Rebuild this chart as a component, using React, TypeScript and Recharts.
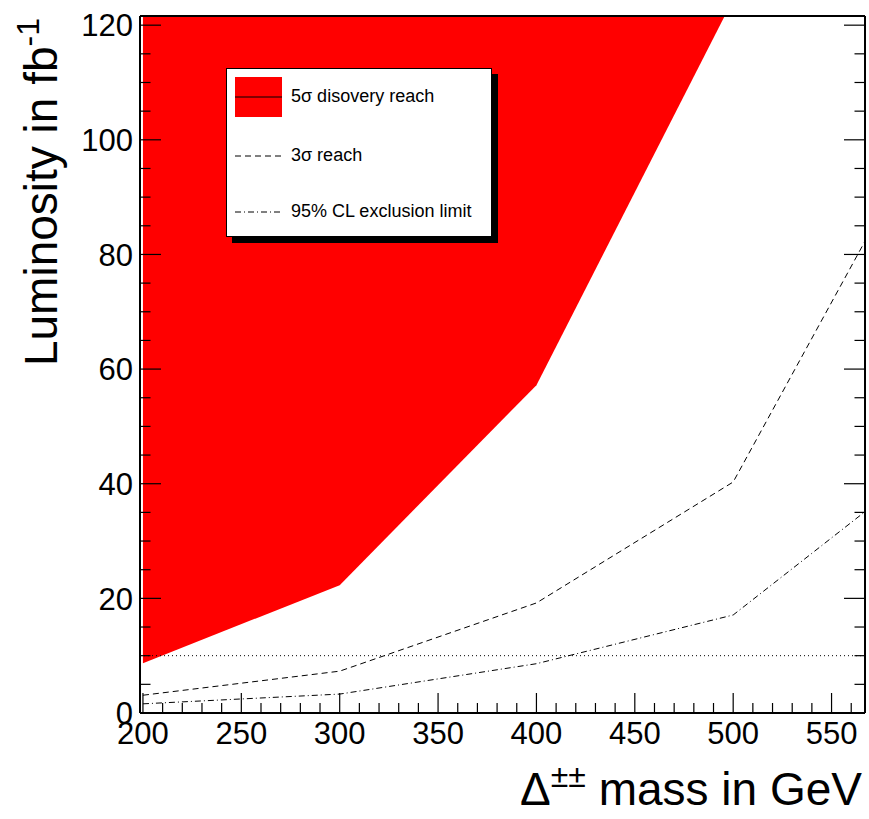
import React from 'react';
import { ComposedChart, Area, Line, XAxis, YAxis, ReferenceLine, Legend } from 'recharts';

// Delta++ mass points (GeV) and the luminosity needed (fb^-1)
const masses = [200, 300, 400, 500, 600];
const reach5sigma = [8.7, 22.3, 57.2, 124.5, null];
const reach3sigma = [3.1, 7.3, 19.2, 40.3, 103];
const exclusion95 = [1.6, 3.3, 8.6, 17.1, 44];
const refLumi = 10;

const xMajorTicks = [200, 250, 300, 350, 400, 450, 500, 550];
const yMajorTicks = [0, 20, 40, 60, 80, 100, 120];
const xTicks = Array.from({ length: 37 }, (_, i) => 200 + i * 10);
const yTicks = Array.from({ length: 25 }, (_, i) => i * 5);

const data = masses.map((m, i) => ({
  mass: m,
  s5: reach5sigma[i],
  s3: reach3sigma[i],
  cl95: exclusion95[i],
}));

const FONT = '"Liberation Sans", Arial, Helvetica, sans-serif';
const X_DOMAIN = [198.5, 567];
const Y_DOMAIN = [0, 121.6];

const isMajorX = (v: number) => xMajorTicks.includes(v);
const isMajorY = (v: number) => yMajorTicks.includes(v);

const BottomTick = (p: any) => {
  const { x, y, payload } = p;
  const major = isMajorX(payload.value);
  return (
    <g>
      <line x1={x} x2={x} y1={y} y2={y - (major ? 20 : 10)} stroke="#000" strokeWidth={1.2} />
      {major && (
        <text x={x} y={y + 31} textAnchor="middle" fontSize={31} fontFamily={FONT} fill="#000">
          {payload.value}
        </text>
      )}
    </g>
  );
};

const TopTick = (p: any) => {
  const { x, y, payload } = p;
  const major = isMajorX(payload.value);
  return <line x1={x} x2={x} y1={y} y2={y + (major ? 20 : 10)} stroke="#000" strokeWidth={1.2} />;
};

const LeftTick = (p: any) => {
  const { x, y, payload } = p;
  const major = isMajorY(payload.value);
  return (
    <g>
      <line x1={x} x2={x + (major ? 21 : 10.5)} y1={y} y2={y} stroke="#000" strokeWidth={1.2} />
      {major && (
        <text x={x - 7} y={y} dy="0.36em" textAnchor="end" fontSize={31} fontFamily={FONT} fill="#000">
          {payload.value}
        </text>
      )}
    </g>
  );
};

const RightTick = (p: any) => {
  const { x, y, payload } = p;
  const major = isMajorY(payload.value);
  return <line x1={x} x2={x - (major ? 21 : 10.5)} y1={y} y2={y} stroke="#000" strokeWidth={1.2} />;
};

const XTitle = (p: any) => {
  const vb = p.viewBox;
  return (
    <text x={vb.x + vb.width - 3} y={vb.y + 92} textAnchor="end" fontSize={46} fontFamily={FONT} fill="#000">
      Δ
      <tspan dy={-18} fontSize={32}>±±</tspan>
      <tspan dy={18}> mass in GeV</tspan>
    </text>
  );
};

const YTitle = () => (
  <text transform="translate(57,18) rotate(-90)" textAnchor="end" fontSize={46} fontFamily={FONT} fill="#000">
    Luminosity in fb
    <tspan dy={-18} fontSize={32}>-1</tspan>
  </text>
);

const LegendBox = () => (
  <div
    style={{
      position: 'relative',
      width: 264,
      height: 167,
      background: '#fff',
      border: '1px solid #000',
      boxShadow: '6px 6px 0 #000',
      fontFamily: FONT,
      fontSize: 18,
      color: '#000',
    }}
  >
    <svg width={50} height={160} style={{ position: 'absolute', left: 8, top: 7 }}>
      <rect x={0} y={1} width={47} height={40} fill="#ff0000" />
      <line x1={0} x2={47} y1={21} y2={21} stroke="#000" strokeWidth={1} />
      <line x1={0} x2={47} y1={80} y2={80} stroke="#000" strokeDasharray="6 4" strokeWidth={1} />
      <line x1={0} x2={47} y1={136} y2={136} stroke="#000" strokeDasharray="6 3 1 3" strokeWidth={1} />
    </svg>
    <div style={{ position: 'absolute', left: 64, top: 17 }}>5σ disovery reach</div>
    <div style={{ position: 'absolute', left: 64, top: 76 }}>3σ reach</div>
    <div style={{ position: 'absolute', left: 64, top: 132 }}>95% CL exclusion limit</div>
  </div>
);

export default function App() {
  return (
    <div style={{ position: 'absolute', left: 0, top: 0, width: 869, height: 819, background: '#fff' }}>
      <ComposedChart width={869} height={819} data={data} margin={{ top: 0, right: 0, bottom: 0, left: 0 }}>
        <XAxis
          dataKey="mass"
          type="number"
          domain={X_DOMAIN}
          allowDataOverflow
          ticks={xTicks}
          interval={0}
          height={106}
          tickSize={0}
          tickMargin={0}
          tick={BottomTick}
          axisLine={{ stroke: '#000', strokeWidth: 2 }}
          label={{ content: XTitle }}
        />
        <XAxis
          xAxisId="t"
          orientation="top"
          type="number"
          domain={X_DOMAIN}
          allowDataOverflow
          ticks={xTicks}
          interval={0}
          height={16}
          tickSize={0}
          tickMargin={0}
          tick={TopTick}
          axisLine={{ stroke: '#000', strokeWidth: 2 }}
        />
        <YAxis
          type="number"
          domain={Y_DOMAIN}
          allowDataOverflow
          ticks={yTicks}
          interval={0}
          width={140}
          tickSize={0}
          tickMargin={0}
          tick={LeftTick}
          axisLine={{ stroke: '#000', strokeWidth: 2 }}
          label={{ content: YTitle }}
        />
        <YAxis
          yAxisId="r"
          orientation="right"
          type="number"
          domain={Y_DOMAIN}
          allowDataOverflow
          ticks={yTicks}
          interval={0}
          width={4}
          tickSize={0}
          tickMargin={0}
          tick={RightTick}
          axisLine={{ stroke: '#000', strokeWidth: 2 }}
        />
        <Area
          dataKey={(d: any) => (d.s5 == null ? null : [d.s5, 200])}
          type="linear"
          fill="#ff0000"
          fillOpacity={1}
          stroke="none"
          isAnimationActive={false}
          name="5σ disovery reach"
        />
        <ReferenceLine y={refLumi} stroke="#000" strokeDasharray="1 3" strokeWidth={1} />
        <Line
          dataKey="s3"
          type="linear"
          stroke="#000"
          strokeWidth={1}
          strokeDasharray="6 4"
          dot={false}
          isAnimationActive={false}
          name="3σ reach"
        />
        <Line
          dataKey="cl95"
          type="linear"
          stroke="#000"
          strokeWidth={1}
          strokeDasharray="6 3 1 3"
          dot={false}
          isAnimationActive={false}
          name="95% CL exclusion limit"
        />
        <Legend
          layout="horizontal"
          align="center"
          verticalAlign="middle"
          content={LegendBox}
          wrapperStyle={{ left: 226, top: 68, width: 266, height: 170 }}
        />
      </ComposedChart>
    </div>
  );
}
